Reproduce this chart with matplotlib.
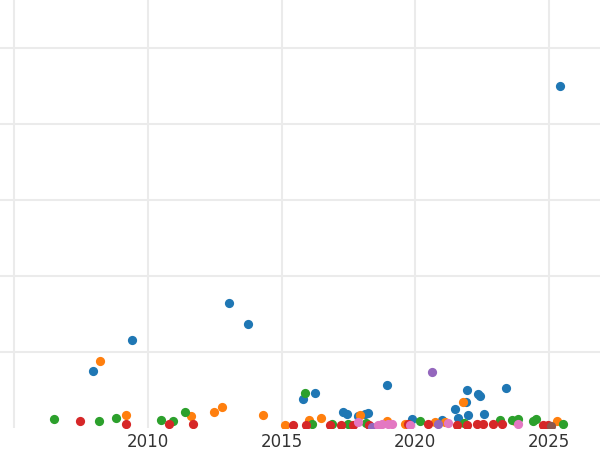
import numpy as np
import matplotlib.pyplot as plt

# points, one pair of lists per colour group
blue_x = [2007.97, 2009.43, 2013.05, 2013.75, 2025.41, 2015.79, 2016.25, 2017.31, 2017.46,
          2017.87, 2018.12, 2018.24, 2018.93, 2019.86, 2020.98, 2021.48, 2021.58, 2021.88,
          2021.92, 2021.96, 2022.33, 2022.42, 2022.58, 2023.38]
blue_y = [0.75, 1.15, 1.64, 1.36, 4.50, 0.37, 0.45, 0.20, 0.18,
          0.15, 0.18, 0.19, 0.56, 0.11, 0.10, 0.24, 0.13, 0.33,
          0.50, 0.16, 0.44, 0.41, 0.18, 0.52]

orange_x = [2008.22, 2009.19, 2011.63, 2012.48, 2012.79, 2014.30, 2015.13, 2016.04, 2016.46,
            2017.93, 2018.93, 2019.61, 2020.73, 2021.12, 2021.79, 2023.73, 2025.28]
orange_y = [0.87, 0.16, 0.15, 0.21, 0.27, 0.17, 0.03, 0.10, 0.12,
            0.17, 0.08, 0.04, 0.07, 0.07, 0.34, 0.08, 0.08]

green_x = [2006.48, 2008.19, 2008.81, 2010.49, 2010.96, 2011.41, 2015.88, 2016.13, 2016.88,
           2017.50, 2018.16, 2020.17, 2021.83, 2023.16, 2023.60, 2023.85, 2024.41, 2024.51,
           2025.50]
green_y = [0.11, 0.09, 0.12, 0.10, 0.08, 0.21, 0.46, 0.05, 0.05,
           0.05, 0.06, 0.09, 0.06, 0.10, 0.10, 0.11, 0.08, 0.11,
           0.04]

red_x = [2007.47, 2009.19, 2010.80, 2011.69, 2015.44, 2015.92, 2016.81, 2017.22, 2017.66,
         2018.28, 2019.74, 2020.46, 2021.54, 2021.92, 2022.29, 2022.54, 2022.91, 2023.23,
         2024.78, 2024.96]
red_y = [0.09, 0.04, 0.05, 0.05, 0.03, 0.03, 0.03, 0.03, 0.03,
         0.03, 0.04, 0.04, 0.03, 0.03, 0.04, 0.04, 0.04, 0.04,
         0.03, 0.03]

purple_x = [2020.62, 2018.37, 2020.86]
purple_y = [0.73, 0.01, 0.04]

pink_x = [2017.85, 2018.74, 2018.99, 2019.12, 2019.80, 2021.21, 2023.85, 2018.6]
pink_y = [0.07, 0.04, 0.04, 0.04, 0.03, 0.06, 0.04, 0.03]

brown_x = [2025.07]
brown_y = [0.02]

groups = [
    (blue_x, blue_y, '#1f77b4'),
    (orange_x, orange_y, '#ff7f0e'),
    (green_x, green_y, '#2ca02c'),
    (red_x, red_y, '#d62728'),
    (purple_x, purple_y, '#9467bd'),
    (brown_x, brown_y, '#8c564b'),
    (pink_x, pink_y, '#e377c2'),
]

year_ticks = [2005, 2010, 2015, 2020, 2025]
year_labels = ['', '2010', '2015', '2020', '2025']

fig = plt.figure(figsize=(6, 4.5), dpi=100)
ax = fig.add_axes([0, 0.05, 1, 0.95])

for xs, ys, col in groups:
    ax.scatter(xs, ys, s=44, color=col, linewidths=0, zorder=3)

ax.set_xlim(2004.48, 2026.9)
ax.set_ylim(0, 5.625)
ax.set_xticks(year_ticks)
ax.set_xticklabels(year_labels)
ax.set_yticks([1, 2, 3, 4, 5])
ax.set_yticklabels([])

ax.grid(True, color='#ebebeb', linewidth=1.5, zorder=0)
ax.set_axisbelow(True)
for sp in ax.spines.values():
    sp.set_visible(False)
ax.tick_params(length=0, labelsize=12, labelcolor='#333333', pad=4)

fig.savefig('out.png', dpi=100)
